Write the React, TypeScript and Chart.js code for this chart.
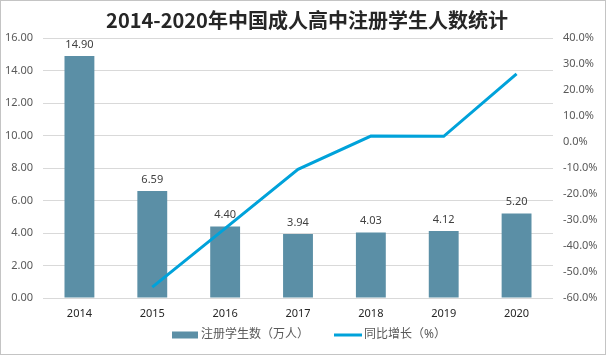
import React, { useEffect, useRef } from "react";
import { Chart, registerables } from "chart.js";

Chart.register(...registerables);

const years = ["2014", "2015", "2016", "2017", "2018", "2019", "2020"];
const students = [14.9, 6.59, 4.4, 3.94, 4.03, 4.12, 5.2];
const growth = [null, -55.8, -33.2, -10.5, 2.3, 2.2, 26.2];
const leftTicks = { min: 0, max: 16, step: 2 };
const rightTicks = { min: -60, max: 40, step: 10 };
const title = "2014-2020年中国成人高中注册学生人数统计";
const barLabel = "注册学生数（万人）";
const lineLabel = "同比增长（%）";

const BAR_COLOR = "#5B8FA6";
const LINE_COLOR = "#00A2DA";
const FONT = "'Noto Sans', 'Noto Sans CJK SC', sans-serif";

export default function App() {
  const ref = useRef<HTMLCanvasElement | null>(null);

  useEffect(() => {
    document.body.style.margin = "0";
    const canvas = ref.current!;
    const decor = {
      id: "decor",
      beforeDraw(chart: any) {
        const ctx = chart.ctx;
        ctx.save();
        ctx.fillStyle = "#ffffff";
        ctx.fillRect(0, 0, chart.width, chart.height);
        ctx.restore();
      },
      afterDraw(chart: any) {
        const ctx = chart.ctx;
        ctx.save();
        // title
        ctx.font = "bold 20px 'Noto Sans CJK SC', sans-serif";
        ctx.fillStyle = "#262626";
        ctx.textAlign = "center";
        ctx.textBaseline = "middle";
        ctx.fillText(title, 307, 20);
        // data labels on bars
        const meta = chart.getDatasetMeta(1);
        ctx.font = "11px " + FONT;
        ctx.fillStyle = "#404040";
        ctx.textBaseline = "bottom";
        meta.data.forEach((bar: any, i: number) => {
          ctx.fillText(students[i].toFixed(2), bar.x, bar.y - 6);
        });
        // legend
        const ly = 335;
        ctx.font = "12px " + FONT;
        ctx.textAlign = "left";
        ctx.textBaseline = "middle";
        ctx.fillStyle = BAR_COLOR;
        ctx.fillRect(172, ly - 3.5, 26, 7);
        ctx.fillStyle = "#595959";
        ctx.fillText(barLabel, 201, ly);
        const w1 = ctx.measureText(barLabel).width;
        const lx = 201 + w1 + 25;
        ctx.strokeStyle = LINE_COLOR;
        ctx.lineWidth = 3;
        ctx.beginPath();
        ctx.moveTo(lx, ly);
        ctx.lineTo(lx + 28, ly);
        ctx.stroke();
        ctx.fillText(lineLabel, lx + 30, ly);
        // border
        ctx.strokeStyle = "#c4c4c4";
        ctx.lineWidth = 1;
        ctx.strokeRect(0.5, 0.5, chart.width - 1, chart.height - 1);
        ctx.restore();
      },
    };

    const chart = new Chart(canvas, {
      data: {
        labels: years,
        datasets: [
          {
            type: "line",
            label: lineLabel,
            data: growth,
            borderColor: LINE_COLOR,
            backgroundColor: LINE_COLOR,
            borderWidth: 3,
            pointRadius: 0,
            tension: 0,
            yAxisID: "y1",
            order: 0,
          } as any,
          {
            type: "bar",
            label: barLabel,
            data: students,
            backgroundColor: BAR_COLOR,
            barPercentage: 0.41,
            categoryPercentage: 1,
            yAxisID: "y",
            order: 1,
          } as any,
        ],
      },
      options: {
        animation: false,
        responsive: false,
        devicePixelRatio: 1,
        layout: { padding: { top: 38, left: 0, right: 0, bottom: 35.5 } },
        plugins: {
          title: { display: false },
          tooltip: { enabled: false },
          legend: { display: false },
        },
        scales: {
          x: {
            grid: { display: false, drawTicks: false },
            border: { display: false },
            ticks: {
              font: { size: 11, family: FONT },
              color: "#262626",
              padding: 9,
            },
            afterFit: (s: any) => {
              s.height = 21.5;
            },
          },
          y: {
            position: "left",
            min: leftTicks.min,
            max: leftTicks.max,
            ticks: {
              stepSize: leftTicks.step,
              callback: (v: any) => Number(v).toFixed(2),
              font: { size: 11, family: FONT },
              color: "#595959",
              padding: 10,
            },
            grid: { color: "#d9d9d9", drawTicks: false },
            border: { display: false },
            afterFit: (s: any) => {
              s.width = 43;
            },
          },
          y1: {
            position: "right",
            min: rightTicks.min,
            max: rightTicks.max,
            ticks: {
              stepSize: rightTicks.step,
              callback: (v: any) => Number(v).toFixed(1) + "%",
              font: { size: 11, family: FONT },
              color: "#595959",
              padding: 10,
            },
            grid: { drawOnChartArea: false, drawTicks: false },
            border: { display: false },
            afterFit: (s: any) => {
              s.width = 53;
            },
          },
        },
      },
      plugins: [decor],
    });
    return () => chart.destroy();
  }, []);

  return (
    <div style={{ width: 606, height: 355 }}>
      <canvas ref={ref} width={606} height={355} style={{ display: "block" }} />
    </div>
  );
}
